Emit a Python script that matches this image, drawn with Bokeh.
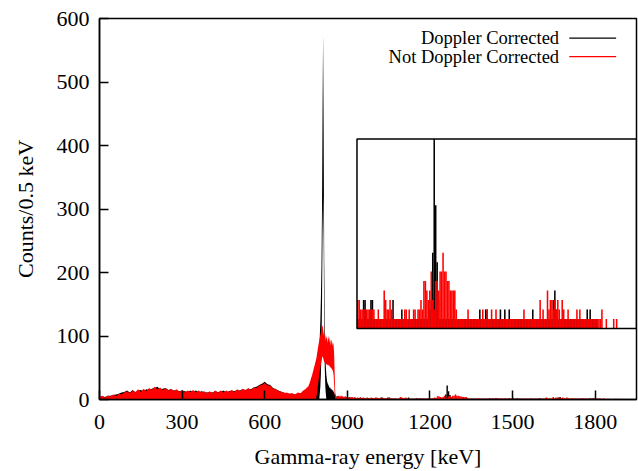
import numpy as np
from bokeh.plotting import figure
from bokeh.models import Range1d, FixedTicker, Label, BoxAnnotation
from bokeh.embed import file_html
from bokeh.resources import INLINE

# ---------------- data ----------------
x_ticks = [0, 300, 600, 900, 1200, 1500, 1800]
y_ticks = [0, 100, 200, 300, 400, 500, 600]

# background region 0-740 keV, 10 keV steps (upper envelope of counts)
bg_energy = list(range(0, 750, 10))
red_bg = [4, 6, 3, 6, 5, 8, 5, 9, 8, 11,
          13, 10, 14, 11, 16, 12, 17, 13, 18, 15,
          20, 16, 19, 15, 18, 14, 17, 13, 16, 12,
          15, 11, 14, 12, 15, 11, 14, 11, 13, 10,
          13, 10, 14, 11, 14, 11, 14, 12, 15, 12,
          16, 13, 17, 14, 18, 15, 19, 18, 22, 23,
          26, 22, 22, 17, 17, 13, 13, 10, 11, 9,
          10, 8, 11, 10, 14]
black_bg = [3, 5, 4, 6, 6, 7, 8, 9, 11, 12,
            14, 11, 15, 12, 14, 15, 13, 16, 15, 17,
            18, 20, 16, 17, 18, 15, 16, 14, 15, 13,
            14, 13, 12, 14, 12, 14, 11, 13, 12, 11,
            12, 11, 13, 12, 12, 14, 11, 13, 14, 13,
            15, 14, 16, 15, 17, 16, 19, 20, 23, 25,
            28, 24, 23, 18, 16, 14, 12, 11, 9, 9,
            9, 8, 9, 10, 11]

# peak region 750-858 keV, 2 keV steps (upper / lower envelope)
peak_energy = list(range(750, 860, 2))
red_peak_hi = [17, 19, 18, 21, 20, 23, 25, 27, 30, 33,
               36, 38, 42, 45, 49, 52, 55, 59, 62, 66,
               72, 77, 83, 88, 92, 97, 101, 106, 111, 114,
               117, 110, 104, 98, 106, 100, 92, 100, 96, 88,
               101, 94, 99, 90, 94, 85, 92, 94, 84, 90,
               86, 72, 40, 12, 6]
red_peak_lo = [0, 0, 0, 0, 0, 0, 0, 0, 0, 0,
               0, 0, 0, 0, 0, 0, 0, 0, 0, 5,
               10, 18, 25, 32, 38, 45, 50, 55, 60, 65,
               68, 66, 62, 60, 58, 57, 55, 56, 55, 54,
               55, 53, 54, 52, 50, 51, 49, 48, 46, 44,
               38, 25, 8, 2, 0]
black_peak_hi = [12, 13, 12, 14, 15, 14, 16, 17, 16, 18,
                 19, 21, 20, 23, 25, 27, 29, 31, 34, 38,
                 43, 50, 58, 68, 82, 100, 125, 160, 210, 300,
                 460, 575, 420, 220, 120, 75, 50, 38, 30, 26,
                 24, 22, 20, 18, 19, 16, 17, 15, 14, 15,
                 12, 11, 9, 7, 6]
black_peak_lo = [0, 0, 0, 0, 0, 0, 0, 0, 0, 0,
                 0, 0, 0, 0, 0, 0, 0, 0, 0, 0,
                 0, 0, 0, 0, 0, 10, 20, 40, 80, 150,
                 260, 320, 250, 120, 50, 20, 8, 0, 0, 0,
                 0, 0, 0, 0, 0, 0, 0, 0, 0, 0,
                 0, 0, 0, 0, 0]

# tail, 5 keV bins (max counts per bin)
tail_start = 860
bin_w = 5
red_860_995 = [4, 6, 5, 6, 5, 4, 5, 4, 3, 4,
               3, 4, 3, 3, 2, 3, 2, 3, 2, 3,
               2, 2, 3, 2, 2, 3, 2, 2]
black_860_995 = [5, 4, 4, 3, 4, 3, 3, 2, 3, 2,
                 3, 2, 2, 3, 2, 2, 2, 3, 2, 2,
                 2, 1, 2, 2, 1, 2, 2, 1]
red_1000_1945 = [3, 3, 2, 2, 2, 2, 2, 2, 2, 2,
                 2, 2, 1, 1, 2, 1, 1, 1, 4, 3,
                 2, 2, 3, 2, 1, 1, 1, 1, 1, 1,
                 1, 1, 2, 2, 1, 2, 1, 1, 2, 2,
                 1, 2, 2, 3, 2, 5, 5, 4, 3, 4,
                 6, 3, 2, 5, 5, 4, 6, 6, 8, 6,
                 6, 5, 5, 4, 4, 4, 4, 2, 1, 1,
                 1, 1, 1, 1, 1, 2, 1, 1, 1, 1,
                 1, 1, 1, 1, 1, 2, 1, 1, 2, 1,
                 1, 2, 1, 1, 2, 1, 1, 1, 1, 1,
                 1, 1, 1, 1, 1, 1, 1, 1, 1, 1,
                 1, 1, 1, 2, 1, 1, 1, 1, 1, 1,
                 1, 1, 1, 1, 3, 1, 2, 1, 1, 4,
                 2, 3, 3, 2, 3, 2, 3, 2, 1, 3,
                 2, 1, 1, 2, 1, 1, 1, 1, 1, 2,
                 1, 2, 1, 1, 1, 1, 1, 1, 1, 1,
                 1, 1, 1, 1, 1, 1, 2, 0, 0, 1,
                 0, 0, 0, 0, 1, 0, 1, 0, 0, 0,
                 0, 0, 0, 0, 0, 0, 0, 0, 0, 0]
black_1000_1945 = [1, 1, 1, 1, 3, 3, 1, 1, 1, 3,
                   3, 1, 1, 1, 1, 1, 1, 1, 1, 1,
                   1, 1, 1, 1, 3, 1, 1, 1, 1, 1,
                   2, 1, 1, 1, 1, 1, 1, 1, 1, 1,
                   1, 1, 1, 1, 1, 1, 1, 1, 1, 2,
                   3, 8, 22, 13, 7, 3, 1, 1, 1, 1,
                   1, 1, 1, 1, 1, 1, 1, 1, 1, 1,
                   1, 1, 1, 1, 1, 1, 1, 1, 1, 1,
                   1, 1, 1, 2, 1, 1, 1, 2, 2, 1,
                   1, 1, 1, 1, 1, 1, 1, 2, 1, 1,
                   2, 1, 1, 2, 1, 1, 1, 1, 1, 1,
                   1, 1, 1, 1, 1, 1, 1, 1, 1, 2,
                   1, 1, 1, 1, 1, 1, 1, 1, 1, 1,
                   1, 1, 1, 3, 4, 2, 1, 1, 1, 1,
                   1, 1, 1, 1, 1, 1, 1, 1, 1, 1,
                   1, 1, 1, 1, 1, 1, 2, 1, 2, 1,
                   1, 1, 1, 1, 0, 0, 0, 0, 0, 0,
                   0, 0, 0, 0, 0, 0, 0, 0, 0, 0,
                   0, 0, 0, 0, 0, 0, 0, 0, 0, 0]

series_names = ["Doppler Corrected", "Not Doppler Corrected"]
series_colors = ["black", "#ff0000"]

# inset data window
inset_x = (1000, 1950)
inset_y = (0, 20)

assert len(red_bg) == len(bg_energy) == len(black_bg)
assert len(red_peak_hi) == len(peak_energy) == len(red_peak_lo) == len(black_peak_hi) == len(black_peak_lo)

# ---------------- figure ----------------
FONT = "'Liberation Serif', 'Times New Roman', serif"
X_MAX, Y_MAX = 1950, 600
p = figure(width=638, height=471, output_backend="svg", toolbar_location=None,
           x_range=Range1d(0, X_MAX), y_range=Range1d(0, Y_MAX),
           min_border_left=99, min_border_right=2, min_border_top=18, min_border_bottom=72)
p.grid.visible = False
p.background_fill_color = "white"
p.border_fill_color = "white"
p.outline_line_color = "black"
p.outline_line_width = 1.5

p.xaxis.ticker = FixedTicker(ticks=x_ticks)
p.yaxis.ticker = FixedTicker(ticks=y_ticks)
p.xaxis.axis_label = "Gamma-ray energy [keV]"
p.yaxis.axis_label = "Counts/0.5 keV"
for ax in (p.xaxis[0], p.yaxis[0]):
    ax.axis_line_color = "black"
    ax.axis_line_width = 1.5
    ax.major_tick_line_color = "black"
    ax.major_tick_line_width = 1.5
    ax.major_tick_in = 9
    ax.major_tick_out = 0
    ax.minor_tick_in = 0
    ax.minor_tick_out = 0
    ax.major_label_text_font = FONT
    ax.major_label_text_font_size = "22px"
    ax.major_label_text_color = "black"
    ax.axis_label_text_font = FONT
    ax.axis_label_text_font_size = "22px"
    ax.axis_label_text_font_style = "normal"
    ax.axis_label_text_color = "black"
p.xaxis.major_label_standoff = 15
p.xaxis.axis_label_standoff = 12
p.yaxis.major_label_standoff = 10
p.yaxis.axis_label_standoff = 16

main_e = bg_energy + peak_energy
tail_e = [tail_start + bin_w * (i + 0.5) for i in range(len(red_860_995) + len(red_1000_1945))]
inset_e = [inset_x[0] + bin_w * (i + 0.5) for i in range(len(red_1000_1945))]

spectra = [
    (black_bg + black_peak_hi, [0] * len(black_bg) + black_peak_lo, black_860_995 + black_1000_1945, black_1000_1945),
    (red_bg + red_peak_hi, [0] * len(red_bg) + red_peak_lo, red_860_995 + red_1000_1945, red_1000_1945),
]

# inset placement (in main-axis units): box left/right/bottom/top
box_left, box_right, box_bottom, box_top = 935, 1950, 111.8, 410.4
kx = (box_right - box_left) / (inset_x[1] - inset_x[0])
ix_end = inset_x[1] + (X_MAX - box_right) / kx
ix_start = ix_end - X_MAX / kx
ky = (box_top - box_bottom) / (inset_y[1] - inset_y[0])
iy_start = inset_y[0] - box_bottom / ky
iy_end = iy_start + Y_MAX / ky
p.extra_x_ranges = {"ix": Range1d(ix_start, ix_end)}
p.extra_y_ranges = {"iy": Range1d(iy_start, iy_end)}

for (hi, lo, tail, ins), color in zip(spectra, series_colors):
    p.varea(x=main_e, y1=lo, y2=hi, fill_color=color)
    p.vbar(x=tail_e, top=tail, bottom=0, width=bin_w * 1.05, fill_color=color, line_color=None)
    p.vbar(x=inset_e, top=np.minimum(np.array(ins), inset_y[1]).tolist(), bottom=inset_y[0],
           width=bin_w * 1.05, fill_color=color, line_color=None,
           x_range_name="ix", y_range_name="iy")

p.add_layout(BoxAnnotation(left=inset_x[0], right=inset_x[1], bottom=inset_y[0], top=inset_y[1],
                           x_range_name="ix", y_range_name="iy",
                           fill_color=None, fill_alpha=0, line_color="black", line_alpha=1,
                           line_width=1.5))

# legend (text right-aligned, sample line on the right)
leg_text_x = 1669
leg_line = (1706, 1876)
leg_rows = [569, 540]
for name, color, yy in zip(series_names, series_colors, leg_rows):
    p.add_layout(Label(x=leg_text_x, y=yy, text=name, text_align="right", text_baseline="middle",
                       text_font=FONT, text_font_size="18.5px", text_color="black"))
    p.add_layout(BoxAnnotation(left=leg_line[0], right=leg_line[1], bottom=yy - 0.9, top=yy + 0.9,
                               fill_color=color, fill_alpha=1, line_color=None))

open("out.html", "w").write(file_html(p, INLINE))
